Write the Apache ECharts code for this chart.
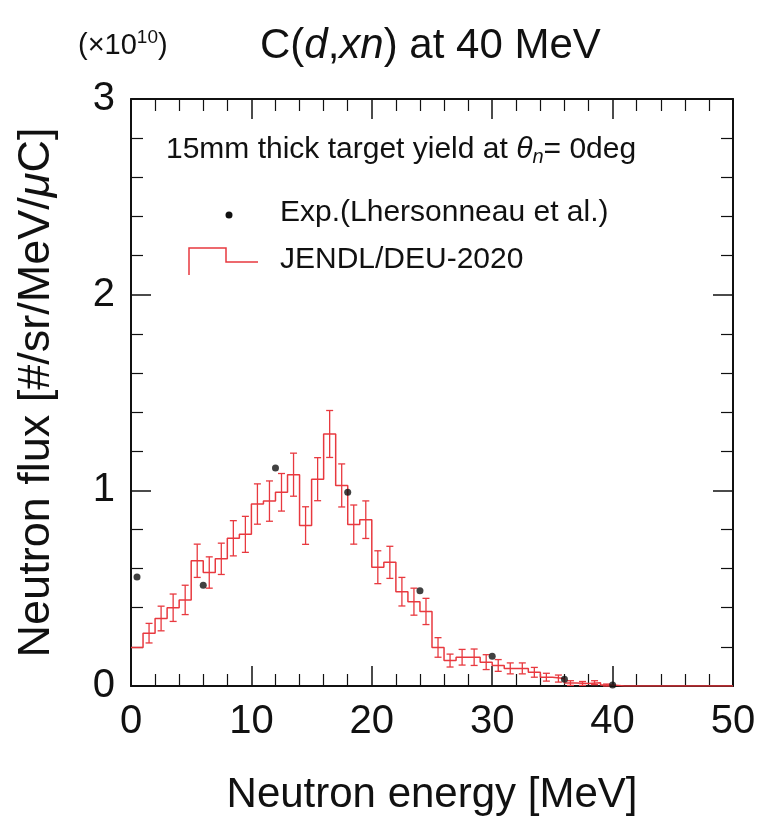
<!DOCTYPE html>
<html>
<head>
<meta charset="utf-8">
<title>C(d,xn) at 40 MeV</title>
<script src="https://cdn.jsdelivr.net/npm/echarts@6/dist/echarts.min.js"></script>
<style>
  html, body { margin: 0; padding: 0; background: #fff; }
  #chart { width: 760px; height: 821px; }
</style>
</head>
<body>
<div id="chart"></div>
<script>
// JENDL/DEU-2020 histogram, 1 MeV bins (lower edges), flux in units of 1e10
const binLow = [0, 1, 2, 3, 4, 5, 6, 7, 8, 9, 10, 11, 12, 13, 14, 15, 16, 17, 18, 19,
  20, 21, 22, 23, 24, 25, 26, 27, 28, 29, 30, 31, 32, 33, 34, 35, 36, 37, 38, 39,
  40, 41, 42, 43, 44, 45, 46, 47, 48, 49, 50]
const jendl = [0.197, 0.27, 0.345, 0.40, 0.44, 0.64, 0.58, 0.65, 0.755, 0.775,
  0.93, 0.945, 0.99, 1.08, 0.82, 1.057, 1.288, 1.025, 0.825, 0.85,
  0.607, 0.632, 0.482, 0.431, 0.381, 0.197, 0.13, 0.147, 0.147, 0.122,
  0.105, 0.09, 0.09, 0.07, 0.045, 0.038, 0.015, 0.013, 0.017, 0.005,
  0, 0, 0, 0, 0, 0, 0, 0, 0, 0]
const jendlErr = [0, 0.05, 0.063, 0.07, 0.075, 0.085, 0.08, 0.08, 0.09, 0.092,
  0.103, 0.103, 0.096, 0.11, 0.096, 0.11, 0.12, 0.11, 0.1, 0.096,
  0.084, 0.082, 0.073, 0.069, 0.067, 0.05, 0.033, 0.04, 0.042, 0.038,
  0.03, 0.028, 0.028, 0.025, 0.02, 0.018, 0.012, 0.01, 0.01, 0.005,
  0, 0, 0, 0, 0, 0, 0, 0, 0, 0]

// Experiment (Lhersonneau et al.)
const expEnergy = [0.5, 6, 12, 18, 24, 30, 36, 40]
const expFlux = [0.557, 0.515, 1.114, 0.99, 0.487, 0.152, 0.034, 0.005]

const red = '#e8393f'
const ink = '#111'
const font = '"Liberation Sans", Arial, Helvetica, sans-serif'

// step line through bin edges (last edge repeats the last bin value)
const stepData = binLow.map((x, i) => [x, i < jendl.length ? jendl[i] : jendl[jendl.length - 1]])
const errData = jendl.map((v, i) => [binLow[i] + 0.5, v, jendlErr[i]]).filter(d => d[2] > 0)
const expData = expEnergy.map((e, i) => [e, expFlux[i]])

function frameAxis(extra) {
  return Object.assign({
    type: 'value',
    axisLine: { show: true, onZero: false, lineStyle: { color: ink, width: 2 } },
    axisTick: { show: true, inside: true, length: 20, lineStyle: { color: ink, width: 1.5 } },
    minorTick: { show: true, splitNumber: 5, length: 12, lineStyle: { color: ink, width: 1.2 } },
    splitLine: { show: false },
    minorSplitLine: { show: false }
  }, extra)
}

const chart = echarts.init(document.getElementById('chart'))

chart.setOption({
  animation: false,
  backgroundColor: '#fff',
  textStyle: { fontFamily: font },
  title: {
    text: '{n|C(}{i|d}{n|,}{i|xn}{n|) at 40 MeV}',
    left: 255,
    top: 20,
    textStyle: {
      fontWeight: 'normal',
      rich: {
        n: { fontSize: 42, fontFamily: font, fontWeight: 'normal', color: ink },
        i: { fontSize: 42, fontFamily: font, fontWeight: 'normal', fontStyle: 'italic', color: ink }
      }
    }
  },
  grid: { left: 131, right: 27, top: 99, bottom: 125 },
  xAxis: [
    frameAxis({
      min: 0, max: 50, interval: 10,
      name: 'Neutron energy [MeV]',
      nameLocation: 'middle',
      nameGap: 88,
      nameTextStyle: { fontSize: 42, color: ink, fontFamily: font },
      axisLabel: { fontSize: 40, color: ink, margin: 16, fontFamily: font }
    }),
    frameAxis({
      min: 0, max: 50, interval: 10, position: 'top',
      axisLabel: { show: false }
    })
  ],
  yAxis: [
    frameAxis({
      min: 0, max: 3, interval: 1,
      name: 'Neutron flux [#/sr/MeV/{i|μ}C]',
      nameLocation: 'middle',
      nameGap: 72,
      nameTextStyle: {
        fontSize: 45, color: ink, fontFamily: font,
        rich: { i: { fontSize: 45, fontStyle: 'italic', color: ink, fontFamily: font } }
      },
      axisLabel: { fontSize: 40, color: ink, margin: 16, fontFamily: font }
    }),
    frameAxis({
      min: 0, max: 3, interval: 1, position: 'right',
      axisLabel: { show: false }
    })
  ],
  graphic: [
    {
      type: 'text', left: 78, top: 28,
      style: {
        text: '{a|(×10}{s|10}{a|)}',
        rich: {
          a: { fontSize: 29, fontFamily: font, fill: ink, lineHeight: 38 },
          s: { fontSize: 19, fontFamily: font, fill: ink, lineHeight: 38, padding: [0, 0, 16, 0] }
        }
      }
    },
    {
      type: 'text', left: 166, top: 133,
      style: {
        text: '{t|15mm thick target yield at }{i|θ}{s|n}{t|= 0deg}',
        rich: {
          t: { fontSize: 30, fontFamily: font, fill: ink, lineHeight: 36 },
          i: { fontSize: 30, fontFamily: font, fontStyle: 'italic', fill: ink, lineHeight: 36 },
          s: { fontSize: 20, fontFamily: font, fontStyle: 'italic', fill: ink, lineHeight: 36, padding: [14, 0, 0, 0] }
        }
      }
    },
    {
      type: 'circle', shape: { cx: 229, cy: 215, r: 3.5 },
      style: { fill: ink }
    },
    {
      type: 'text', left: 280, top: 198,
      style: { text: 'Exp.(Lhersonneau et al.)', fontSize: 30, fontFamily: font, fill: ink }
    },
    {
      type: 'polyline',
      shape: { points: [[189, 275], [189, 248], [226, 248], [226, 262], [258, 262]] },
      style: { stroke: red, lineWidth: 1.5, fill: null }
    },
    {
      type: 'text', left: 280, top: 245,
      style: { text: 'JENDL/DEU-2020', fontSize: 30, fontFamily: font, fill: ink }
    }
  ],
  series: [
    {
      name: 'JENDL/DEU-2020',
      type: 'line',
      step: 'end',
      data: stepData,
      showSymbol: false,
      lineStyle: { color: red, width: 1.5 },
      z: 3
    },
    {
      name: 'JENDL/DEU-2020 error',
      type: 'custom',
      data: errData,
      z: 3,
      renderItem(params, api) {
        const x = api.value(0)
        const v = api.value(1)
        const e = api.value(2)
        const top = api.coord([x, v + e])
        const bot = api.coord([x, v - e])
        const cap = 3.5
        const style = { stroke: red, lineWidth: 1.3, fill: null }
        return {
          type: 'group',
          children: [
            { type: 'line', shape: { x1: top[0], y1: top[1], x2: bot[0], y2: bot[1] }, style },
            { type: 'line', shape: { x1: top[0] - cap, y1: top[1], x2: top[0] + cap, y2: top[1] }, style },
            { type: 'line', shape: { x1: bot[0] - cap, y1: bot[1], x2: bot[0] + cap, y2: bot[1] }, style }
          ]
        }
      }
    },
    {
      name: 'Exp.(Lhersonneau et al.)',
      type: 'scatter',
      data: expData,
      symbol: 'circle',
      symbolSize: 7,
      itemStyle: { color: ink },
      z: 4
    }
  ]
})
</script>
</body>
</html>
